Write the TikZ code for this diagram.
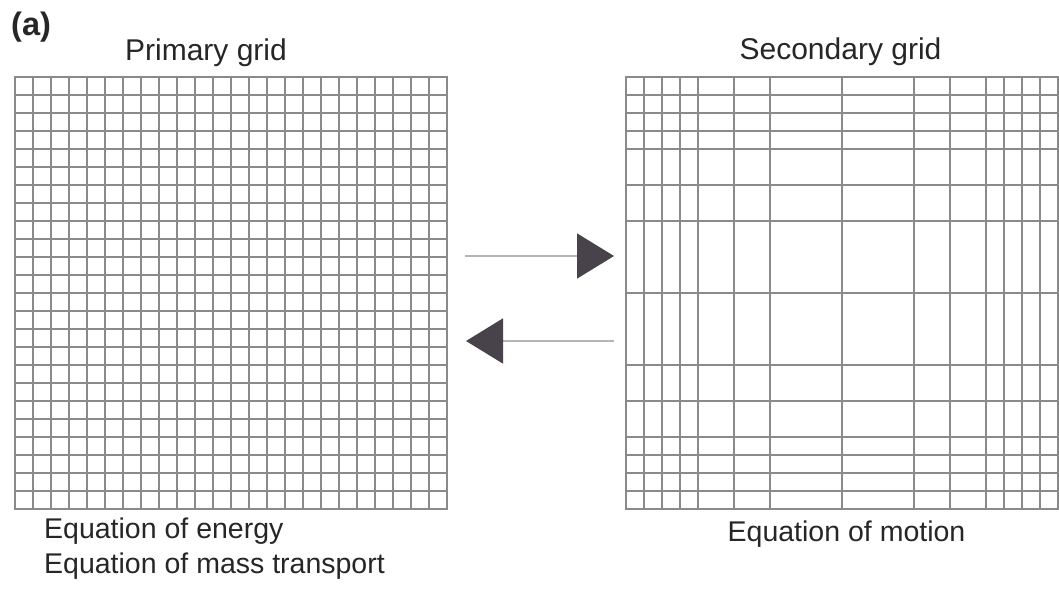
\documentclass[tikz,border=0pt]{standalone}
\usepackage{fontspec}
\setmainfont{Liberation Sans}
\usetikzlibrary{arrows.meta,calc}
\definecolor{gridgray}{HTML}{8A8A8A}
\definecolor{arrowline}{HTML}{B4B4B4}
\definecolor{arrowhead}{HTML}{48434A}
\definecolor{txt}{HTML}{262626}
\tikzset{
  gridbox/.style={draw=gridgray, line width=1.2pt, inner sep=0pt, outer sep=0pt,
    minimum width=432pt, minimum height=432pt, anchor=north west},
  gridline/.style={draw=gridgray, line width=1.1pt},
  lbl/.style={inner sep=0pt, text=txt, font=\fontsize{28.5}{32}\selectfont},
  ttl/.style={inner sep=0pt, text=txt, font=\fontsize{30}{34}\selectfont},
  flow/.style={draw=arrowline, line width=1.6pt,
    -{Triangle[length=37pt,width=45pt,color=arrowhead]}},
}
\begin{document}
\begin{tikzpicture}[x=1pt,y=-1pt]
\useasboundingbox (0,0) rectangle (1059,592);
% grids
\node[gridbox] (prim) at (15,77) {};
\node[gridbox] (sec) at (626,77) {};
\foreach \i in {18,36,...,414} {
  \draw[gridline] ($(prim.north west)+(\i,0)$) -- ($(prim.south west)+(\i,0)$);
  \draw[gridline] ($(prim.north west)+(0,\i)$) -- ($(prim.north east)+(0,\i)$);
}
\foreach \i in {18,36,54,72,108,144,216,288,324,360,378,396,414} {
  \draw[gridline] ($(sec.north west)+(\i,0)$) -- ($(sec.south west)+(\i,0)$);
  \draw[gridline] ($(sec.north west)+(0,\i)$) -- ($(sec.north east)+(0,\i)$);
}
% labels
\node[inner sep=0pt, text=txt, anchor=base west, font=\fontsize{32.5}{36}\selectfont\bfseries] (tag) at (11,35) {(a)};
\node[ttl, anchor=base] (tprim) at (206,60) {Primary grid};
\node[ttl, anchor=base] (tsec) at (840.5,59) {Secondary grid};
\node[lbl, anchor=base west] (eq1) at (44,538) {Equation of energy};
\node[lbl, anchor=base west] (eq2) at (44,573) {Equation of mass transport};
\node[lbl, anchor=base] (eq3) at (846.5,541) {Equation of motion};
% arrows
\draw[flow, shorten <=18pt, shorten >=12pt] ([yshift=37pt]prim.east) -- ([yshift=37pt]sec.west);
\draw[flow, shorten <=12pt, shorten >=19pt] ([yshift=-48pt]sec.west) -- ([yshift=-48pt]prim.east);
\end{tikzpicture}
\end{document}
